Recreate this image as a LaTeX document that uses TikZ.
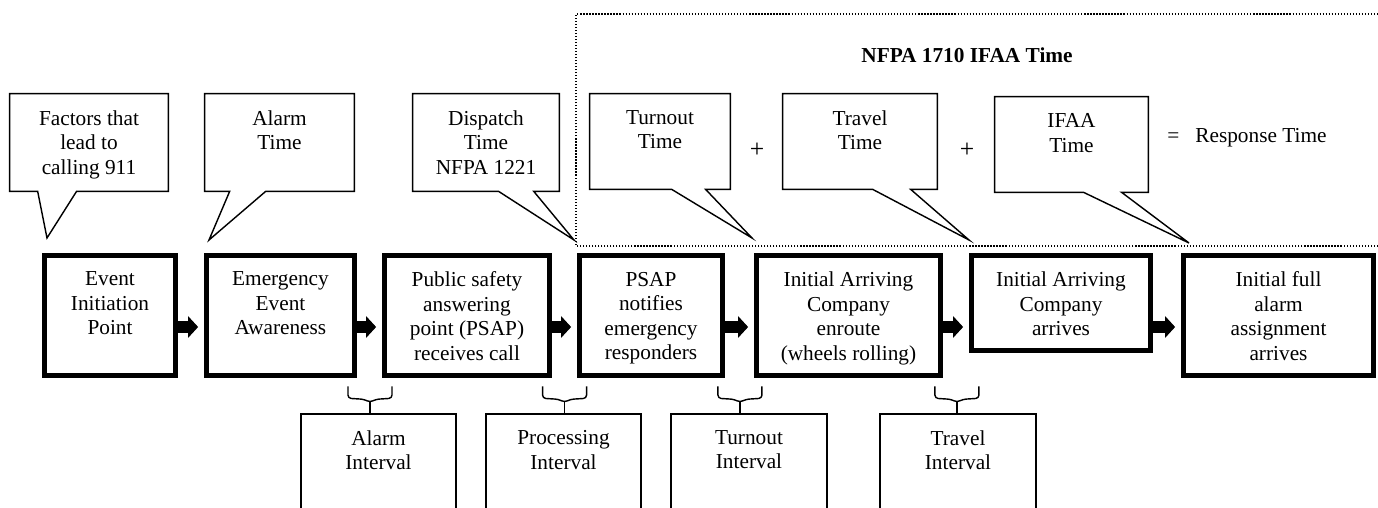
\documentclass[tikz,border=0pt]{standalone}
\usepackage{fontspec}
\setmainfont{Liberation Serif}
\usetikzlibrary{arrows.meta}

\newdimen\px \px=0.5633pt
% text set from the top of a fixed box
\newcommand{\inbox}[3]{\parbox[c][#2\px][t]{#1\px}{\centering\vspace*{16.5\px}#3}}

\tikzset{
  stage/.style={draw, line width=2.6pt, inner sep=0pt},
  notetext/.style={inner sep=0pt},
  note/.style={draw, line width=0.8pt},
  interval/.style={draw, line width=0.8pt, inner sep=0pt},
  flow/.style={line width=6.5pt, -{Triangle[length=5.6pt,width=11.8pt]}, shorten >=3.4pt},
  brace/.style={line width=0.8pt, rounded corners=1.8pt},
  frame/.style={line width=0.7pt, densely dotted}
}

\begin{document}
\begin{tikzpicture}[x=0.5633pt, y=-0.5633pt, font=\fontsize{12pt}{13.8pt}\selectfont]
    \useasboundingbox (0,0) rectangle (1378,508);
    \clip (0,0) rectangle (1378,508);

    % IFAA frame
    \draw[frame] (1390,246) -- (576,246) -- (576,14) -- (1390,14);
    \node (title) at (967,55) {\bfseries NFPA 1710 IFAA Time};

    % Stages
    \node[stage] (event) at (110,315.5) {\inbox{131}{120}{Event\\Initiation\\Point}};
    \node[stage] (aware) at (280.5,315.5) {\inbox{148}{120}{Emergency\\Event\\Awareness}};
    \node[stage] (psap) at (467,315.5) {\inbox{165}{120}{Public safety\\answering\\point (PSAP)\\receives call}};
    \node[stage] (notify) at (651,315.5) {\inbox{143}{120}{PSAP\\notifies\\emergency\\responders}};
    \node[stage] (enroute) at (848.5,315.5) {\inbox{184}{120}{Initial Arriving\\Company\\enroute\\(wheels rolling)}};
    \node[stage] (arrive) at (1061,303) {\inbox{179}{95}{Initial Arriving\\Company\\arrives}};
    \node[stage] (full) at (1278.5,315.5) {\inbox{190}{120}{Initial full\\alarm\\assignment\\arrives}};

    % Arrows
    \coordinate (row) at (0,327);
    \foreach \a/\b in {event/aware, aware/psap, psap/notify, notify/enroute, enroute/arrive, arrive/full}
        \draw[flow] (\a.east |- row) -- (\b.west |- row);

    % Callouts
    \node[notetext] (factors) at (89,142.5) {\inbox{158}{97}{Factors that\\lead to\\calling 911}};
    \node[notetext] (alarmt) at (279.5,142.5) {\inbox{149}{97}{Alarm\\Time}};
    \node[notetext] (dispatch) at (486,142.5) {\inbox{146}{97}{Dispatch\\Time\\NFPA 1221}};
    \node[notetext] (turnt) at (660,141.5) {\inbox{140}{95}{Turnout\\Time}};
    \node[notetext] (travelt) at (860,141.5) {\inbox{154}{95}{Travel\\Time}};
    \node[notetext] (ifaat) at (1071.5,144.5) {\inbox{153}{95}{IFAA\\Time}};

    \draw[note] (factors.south west) -- (factors.north west) -- (factors.north east) -- (factors.south east)
        -- ([xshift=37.7pt]factors.south west) -- (47,238) -- ([xshift=15.8pt]factors.south west) -- cycle;
    \draw[note] (alarmt.south west) -- (alarmt.north west) -- (alarmt.north east) -- (alarmt.south east)
        -- ([xshift=34.4pt]alarmt.south west) -- (209,240) -- ([xshift=14.1pt]alarmt.south west) -- cycle;
    \draw[note] (dispatch.south west) -- (dispatch.north west) -- (dispatch.north east) -- (dispatch.south east)
        -- ([xshift=68.2pt]dispatch.south west) -- (574,240) -- ([xshift=48.4pt]dispatch.south west) -- cycle;
    \draw[note] (turnt.south west) -- (turnt.north west) -- (turnt.north east) -- (turnt.south east)
        -- ([xshift=65.3pt]turnt.south west) -- (752,238) -- ([xshift=46.2pt]turnt.south west) -- cycle;
    \draw[note] (travelt.south west) -- (travelt.north west) -- (travelt.north east) -- (travelt.south east)
        -- ([xshift=72.1pt]travelt.south west) -- (969,240) -- ([xshift=50.7pt]travelt.south west) -- cycle;
    \draw[note] (ifaat.south west) -- (ifaat.north west) -- (ifaat.north east) -- (ifaat.south east)
        -- ([xshift=71.5pt]ifaat.south west) -- (1189,243) -- ([xshift=50.1pt]ifaat.south west) -- cycle;

    \node (plusa) at (757,150) {\Large +};
    \node (plusb) at (967,150) {\Large +};
    \node[anchor=west, inner sep=0pt] (resp) at (1167,138) {=\hspace{9pt}Response Time};

    % Intervals
    \node[interval] (alarmint) at (378.5,477) {\inbox{155}{126}{Alarm\\Interval}};
    \node[interval] (procint) at (563.5,477) {\inbox{155}{126}{Processing\\Interval}};
    \node[interval] (turnint) at (749,477) {\inbox{156}{126}{Turnout\\Interval}};
    \node[interval] (travint) at (958,477) {\inbox{156}{126}{Travel\\Interval}};

    \foreach \n/\s in {alarmint/-4.8pt, procint/0.6pt, turnint/-5.1pt, travint/-0.6pt} {
        \draw[brace] ([xshift=\s]\n.north) ++(-22,-27) -- ++(0,12) -- ++(16,1) -- ++(6,3) -- ++(6,-3) -- ++(16,-1) -- ++(0,-12);
        \draw[brace] ([xshift=\s]\n.north) -- ++(0,-11);
    }
\end{tikzpicture}
\end{document}
